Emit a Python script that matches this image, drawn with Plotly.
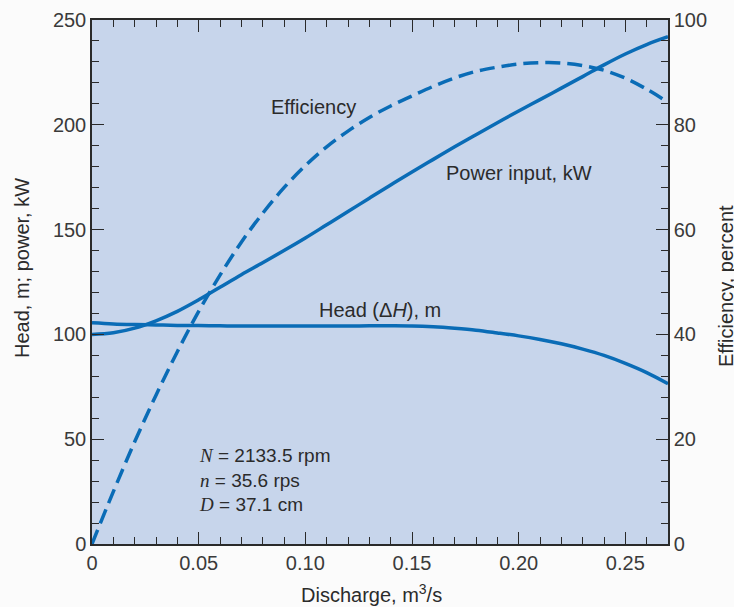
import plotly.graph_objects as go

# Discharge, m^3/s
discharge = [0, 0.01, 0.02, 0.03, 0.04, 0.05, 0.06, 0.07, 0.08, 0.09, 0.10,
             0.11, 0.12, 0.13, 0.14, 0.15, 0.16, 0.17, 0.18, 0.19, 0.20,
             0.21, 0.22, 0.23, 0.24, 0.25, 0.26, 0.27]
# Head, m
head = [105.5, 105.0, 104.7, 104.5, 104.3, 104.2, 104.1, 104.0, 104.0, 104.0, 104.0,
        104.0, 104.0, 104.1, 104.1, 104.0, 103.6, 102.9, 102.0, 100.7, 99.3,
        97.6, 95.5, 93.0, 90.0, 86.2, 81.8, 76.5]
# Power input, kW
power = [100.0, 100.8, 103.0, 106.5, 111.0, 116.5, 122.5, 128.5, 134.2, 140.0, 146.0,
         152.3, 158.6, 165.0, 171.3, 177.5, 183.5, 189.5, 195.3, 201.0, 206.6,
         212.0, 217.5, 223.0, 228.6, 233.8, 238.3, 242.0]
# Efficiency, percent
efficiency = [0.0, 10.0, 19.5, 28.4, 36.7, 44.4, 51.3, 57.6, 63.1, 68.0, 72.2,
              75.8, 78.8, 81.4, 83.6, 85.5, 87.35, 88.95, 90.2, 91.0, 91.6,
              91.85, 91.8, 91.3, 90.4, 88.9, 86.8, 84.3]

x_tickvals = [0, 0.05, 0.10, 0.15, 0.20, 0.25]
x_ticktext = ["0", "0.05", "0.10", "0.15", "0.20", "0.25"]
y_tickvals = [0, 50, 100, 150, 200, 250]
y2_tickvals = [0, 20, 40, 60, 80, 100]

LINE = "#0a6cb6"
FONT = "Liberation Sans"
TXT = "#2b2b2b"

fig = go.Figure()
fig.add_trace(go.Scatter(x=discharge, y=head, mode="lines", line=dict(color=LINE, width=3.5, shape="spline"), yaxis="y"))
fig.add_trace(go.Scatter(x=discharge, y=power, mode="lines", line=dict(color=LINE, width=3.5, shape="spline"), yaxis="y"))
fig.add_trace(go.Scatter(x=discharge, y=efficiency, mode="lines",
                         line=dict(color=LINE, width=3.5, shape="spline", dash="15px,7px"), yaxis="y2"))

axis_common = dict(showgrid=False, zeroline=False, showline=True, linecolor="#2a2a2a", linewidth=1.5,
                   ticks="inside", ticklen=12, tickwidth=1.3, tickcolor="#2a2a2a", automargin=False,
                   tickfont=dict(family=FONT, size=20, color="#3a3a3a"))

fig.update_layout(
    width=734, height=607,
    margin=dict(l=92, r=66, t=20, b=63, autoexpand=False),
    paper_bgcolor="#fbfbfb",
    plot_bgcolor="#c7d5eb",
    showlegend=False,
    font=dict(family=FONT, size=20, color=TXT),
    xaxis=dict(range=[0, 0.27], tickvals=x_tickvals, ticktext=x_ticktext, mirror="ticks",
               minor=dict(dtick=0.01, ticks="inside", ticklen=7, tickcolor="#2a2a2a", tickwidth=1.3),
               **axis_common),
    yaxis=dict(range=[0, 250], tickvals=y_tickvals,
               minor=dict(dtick=10, ticks="inside", ticklen=7, tickcolor="#2a2a2a", tickwidth=1.3),
               **axis_common),
    yaxis2=dict(range=[0, 100], tickvals=y2_tickvals, overlaying="y", side="right",
                minor=dict(dtick=4, ticks="inside", ticklen=7, tickcolor="#2a2a2a", tickwidth=1.3),
                **axis_common),
)

ann_font = dict(family=FONT, size=20, color=TXT)
fig.add_annotation(x=0.1037, y=208.5, xref="x", yref="y", text="Efficiency", showarrow=False, font=ann_font)
fig.add_annotation(x=0.200, y=177, xref="x", yref="y", text="Power input, kW", showarrow=False, font=ann_font)
fig.add_annotation(x=0.1351, y=111.5, xref="x", yref="y", text="Head (Δ<i>H</i>), m", showarrow=False, font=ann_font)

serif = 'style="font-family:Liberation Serif"'
params = (f'<span {serif}><i>N</i></span> = 2133.5 rpm<br>'
          f'<span {serif}><i>n</i></span> = 35.6 rps<br>'
          f'<span {serif}><i>D</i></span> = 37.1 cm')
fig.add_annotation(x=(197 - 92) / 576, y=(544 - 480) / 524, xref="paper", yref="paper", text=params,
                   showarrow=False, xanchor="left", yanchor="middle", align="left",
                   font=dict(family=FONT, size=19, color=TXT))

# Axis titles
fig.add_annotation(x=(371 - 92) / 576, y=(544 - 608) / 524, xref="paper", yref="paper",
                   text="Discharge, m<sup>3</sup>/s", showarrow=False, font=ann_font)
fig.add_annotation(x=(9 - 92) / 576, y=(544 - 268) / 524, xref="paper", yref="paper",
                   text="Head, m; power, kW", textangle=-90, showarrow=False, font=ann_font)
fig.add_annotation(x=(739 - 92) / 576, y=(544 - 286) / 524, xref="paper", yref="paper",
                   text="Efficiency, percent", textangle=-90, showarrow=False, font=ann_font)

fig.write_html("out.html", config={"displayModeBar": False},
               post_script="document.body.style.margin='0px';document.body.style.overflow='hidden';")
